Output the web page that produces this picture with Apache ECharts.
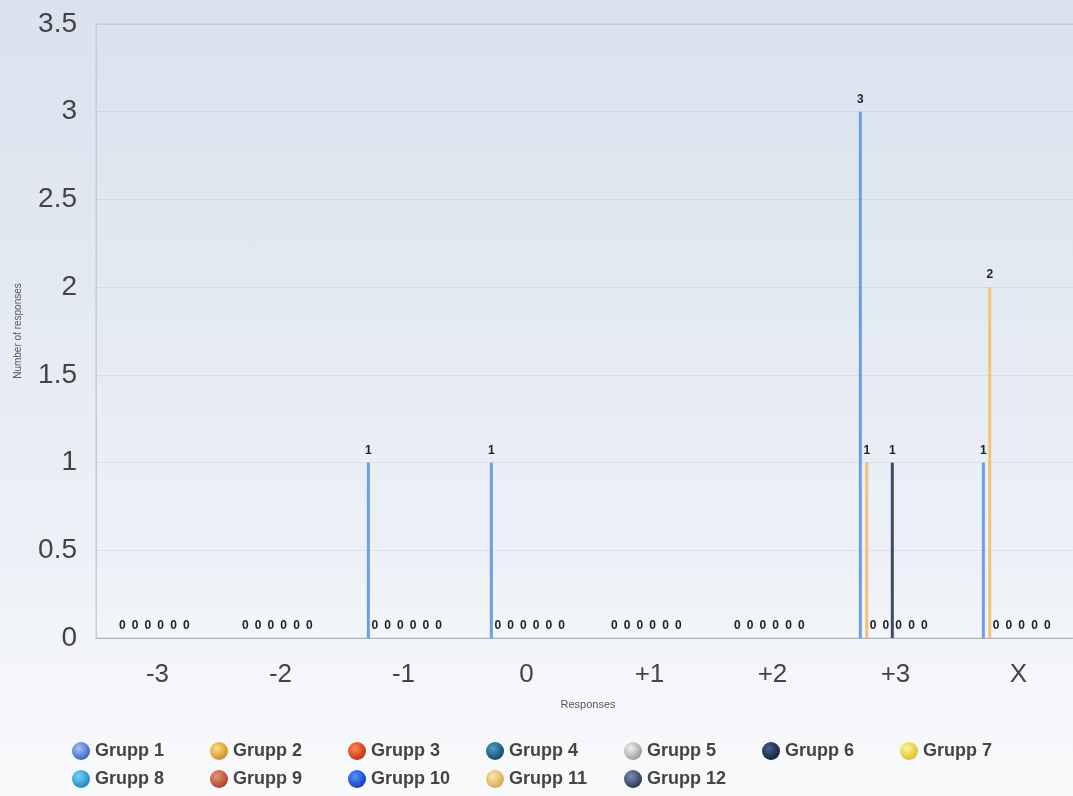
<!DOCTYPE html>
<html>
<head>
<meta charset="utf-8">
<title>Number of responses by group</title>
<script src="https://cdn.jsdelivr.net/npm/echarts@6/dist/echarts.min.js"></script>
<style>
  html, body { margin: 0; padding: 0; }
  #chart {
    width: 1073px; height: 796px;
    background: linear-gradient(to bottom, #d9e2ee 0%, #e3e9f2 35%, #edf1f7 70%, #f4f6f9 85%, #f8f9fb 100%);
  }
</style>
</head>
<body>
<div id="chart"></div>
<script>
// Response categories on the x axis
const categories = ['-3', '-2', '-1', '0', '+1', '+2', '+3', 'X'];

// Y axis tick labels
const yTicks = ['0', '0.5', '1', '1.5', '2', '2.5', '3', '3.5'];

// Number of responses per group, one value per category
const grupp1  = [0, 0, 1, 1, 0, 0, 3, 1];
const grupp2  = [0, 0, 0, 0, 0, 0, 1, 2];
const grupp3  = [0, 0, 0, 0, 0, 0, 0, 0];
const grupp4  = [0, 0, 0, 0, 0, 0, 0, 0];
const grupp5  = [0, 0, 0, 0, 0, 0, 0, 0];
const grupp6  = [0, 0, 0, 0, 0, 0, 1, 0];
const grupp7  = [0, 0, 0, 0, 0, 0, 0, 0];
const grupp8  = [0, 0, 0, 0, 0, 0, 0, 0];
const grupp9  = [0, 0, 0, 0, 0, 0, 0, 0];
const grupp10 = [0, 0, 0, 0, 0, 0, 0, 0];
const grupp11 = [0, 0, 0, 0, 0, 0, 0, 0];
const grupp12 = [0, 0, 0, 0, 0, 0, 0, 0];

const groupNames = ['Grupp 1', 'Grupp 2', 'Grupp 3', 'Grupp 4', 'Grupp 5', 'Grupp 6',
                    'Grupp 7', 'Grupp 8', 'Grupp 9', 'Grupp 10', 'Grupp 11', 'Grupp 12'];
const groupValues = [grupp1, grupp2, grupp3, grupp4, grupp5, grupp6,
                     grupp7, grupp8, grupp9, grupp10, grupp11, grupp12];

// Bar fill per group
const barColors = ['#6b9ee4', '#f6c176', '#e0502a', '#2a6f96', '#bdbdbd', '#3e4b66',
                   '#f2dc5a', '#3aaee0', '#c9664a', '#2a62dc', '#ebc67e', '#4a5a7c'];
// Shiny legend balls: [highlight, shade]
const ballColors = [
  ['#a9c6f7', '#2f5fc4'], ['#f9dc8a', '#cf8d14'], ['#ff8a5a', '#c02a08'],
  ['#4f9cc4', '#0d4468'], ['#f2f2f2', '#979797'], ['#4a5f8c', '#0f1c3c'],
  ['#fff6a0', '#dcbc1c'], ['#78d4f6', '#1784c4'], ['#ee9272', '#a3402a'],
  ['#5a92fa', '#0a3abb'], ['#fae6b0', '#d4a44c'], ['#7a8cae', '#263452']
];

const FONT = 'Liberation Sans, Arial, sans-serif';

function ball(i) {
  return {
    type: 'radial', x: 0.38, y: 0.35, r: 0.7,
    colorStops: [
      { offset: 0, color: ballColors[i][0] },
      { offset: 1, color: ballColors[i][1] }
    ]
  };
}

const series = groupNames.map((name, i) => ({
  name: name,
  type: 'bar',
  data: groupValues[i],
  barWidth: 3,
  barGap: '113%',
  itemStyle: { color: barColors[i] },
  label: {
    show: true,
    position: 'top',
    distance: 6,
    fontFamily: FONT,
    fontSize: 12,
    fontWeight: 'bold',
    color: '#222',
    padding: [0, 2],
    backgroundColor: 'rgba(0,0,0,0)'
  },
  labelLayout: { hideOverlap: true }
}));

const legendText = {
  fontFamily: FONT,
  fontSize: 18,
  fontWeight: 'bold',
  color: '#444',
  width: 100,
  backgroundColor: 'rgba(0,0,0,0)'
};

function legendRow(names, top) {
  return {
    left: 72,
    top: top,
    padding: 0,
    orient: 'horizontal',
    icon: 'circle',
    itemWidth: 18,
    itemHeight: 18,
    itemGap: 15,
    selectedMode: false,
    textStyle: legendText,
    data: names.map(n => ({ name: n, itemStyle: { color: ball(groupNames.indexOf(n)) } }))
  };
}

const chart = echarts.init(document.getElementById('chart'), null, { renderer: 'canvas' });
chart.setOption({
  backgroundColor: 'transparent',
  animation: false,
  grid: {
    left: 96,
    top: 24,
    width: 984,
    bottom: 158,
    outerBoundsMode: 'none',
    show: true,
    borderColor: 'rgba(170,182,200,0.55)',
    borderWidth: 1,
    backgroundColor: 'transparent'
  },
  legend: [
    legendRow(groupNames.slice(0, 7), 742),
    legendRow(groupNames.slice(7), 770)
  ],
  xAxis: {
    type: 'category',
    data: categories,
    name: 'Responses',
    nameLocation: 'middle',
    nameGap: 61,
    nameTextStyle: { fontFamily: FONT, fontSize: 11, color: '#555' },
    axisLine: { lineStyle: { color: '#aeb3bb', width: 1 } },
    axisTick: { show: false },
    axisLabel: { fontFamily: FONT, fontSize: 26, color: '#444', margin: 24 },
    splitLine: { show: false }
  },
  yAxis: {
    type: 'value',
    min: 0,
    max: 3.5,
    interval: 0.5,
    name: 'Number of responses',
    nameLocation: 'middle',
    nameGap: 73,
    nameTextStyle: { fontFamily: FONT, fontSize: 10, color: '#555' },
    axisLine: { show: true, lineStyle: { color: '#c6ccd6' } },
    axisTick: { show: false },
    axisLabel: {
      fontFamily: FONT, fontSize: 28, color: '#444', margin: 19,
      formatter: v => yTicks[Math.round(v / 0.5)]
    },
    splitLine: { lineStyle: { color: 'rgba(165,180,200,0.25)', width: 1 } }
  },
  series: series
});
</script>
</body>
</html>
